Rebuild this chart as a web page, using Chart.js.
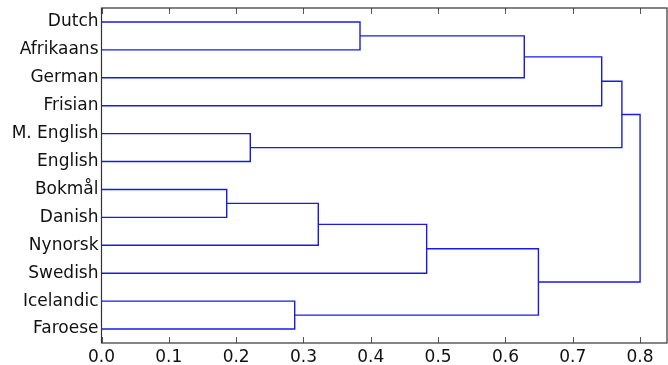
<!DOCTYPE html>
<html>
<head>
<meta charset="utf-8">
<script src="https://cdn.jsdelivr.net/npm/chart.js@4"></script>
<style>
  html, body { margin: 0; padding: 0; background: #fff; }
  #wrap { width: 668px; height: 365px; }
</style>
</head>
<body>
<div id="wrap"><canvas id="c" width="668" height="365"></canvas></div>
<script>
// Leaves (top to bottom)
const leaves = ['Dutch', 'Afrikaans', 'German', 'Frisian', 'M. English', 'English',
                'Bokmål', 'Danish', 'Nynorsk', 'Swedish', 'Icelandic', 'Faroese'];
// Merges (scipy style: ids 0..11 are leaves, merge k creates id 12+k)
const mergeLeft   = [0, 12, 13, 4, 14, 6, 17, 18, 10, 19, 16];
const mergeRight  = [1, 2, 3, 5, 15, 7, 8, 9, 11, 20, 21];
const mergeHeight = [0.384, 0.628, 0.743, 0.221, 0.773, 0.186, 0.322, 0.483, 0.287, 0.649, 0.80];
// X axis ticks
const xTicks = [0.0, 0.1, 0.2, 0.3, 0.4, 0.5, 0.6, 0.7, 0.8];

const nLeaves = leaves.length;
const nodePos = leaves.map((_, i) => 5 + 10 * i);
const nodeH = leaves.map(() => 0);
const datasets = [];
mergeLeft.forEach((a, k) => {
  const b = mergeRight[k], h = mergeHeight[k];
  datasets.push({
    data: [
      { x: nodeH[a], y: nodePos[a] },
      { x: h, y: nodePos[a] },
      { x: h, y: nodePos[b] },
      { x: nodeH[b], y: nodePos[b] }
    ],
    showLine: true,
    borderColor: '#1a1ae8',
    borderWidth: 1.4,
    pointRadius: 0,
    fill: false,
    tension: 0
  });
  nodePos.push((nodePos[a] + nodePos[b]) / 2);
  nodeH.push(h);
});

Chart.defaults.font.family = "'DejaVu Sans', sans-serif";
Chart.defaults.font.size = 17;
Chart.defaults.color = '#111';

const frame = {
  id: 'frame',
  afterDraw(chart) {
    const { ctx, chartArea: a, scales: { x } } = chart;
    ctx.save();
    ctx.strokeStyle = '#555';
    ctx.lineWidth = 1;
    xTicks.forEach(v => {
      const px = Math.round(x.getPixelForValue(v)) + 0.5;
      ctx.beginPath();
      ctx.moveTo(px, a.bottom); ctx.lineTo(px, a.bottom - 6);
      ctx.moveTo(px, a.top); ctx.lineTo(px, a.top + 6);
      ctx.stroke();
    });
    ctx.strokeStyle = '#333';
    ctx.lineWidth = 1.2;
    ctx.strokeRect(a.left, a.top, a.right - a.left, a.bottom - a.top);
    ctx.restore();
  }
};

new Chart(document.getElementById('c'), {
  type: 'scatter',
  data: { datasets },
  options: {
    responsive: false,
    animation: false,
    layout: { padding: { top: 8, right: 1, left: 0, bottom: 0 } },
    plugins: { legend: { display: false }, tooltip: { enabled: false } },
    scales: {
      x: {
        type: 'linear',
        min: 0, max: 0.84,
        afterBuildTicks: s => { s.ticks = xTicks.map(v => ({ value: v })); },
        afterFit: s => { s.height = 22; s.paddingLeft = 0; s.paddingRight = 0; },
        ticks: { padding: 4, callback: v => v.toFixed(1), maxRotation: 0 },
        grid: { display: false, drawTicks: false },
        border: { display: false }
      },
      y: {
        type: 'linear',
        reverse: true,
        min: 0, max: 10 * nLeaves,
        afterBuildTicks: s => { s.ticks = leaves.map((_, i) => ({ value: 5 + 10 * i })); },
        afterFit: s => { s.width = 101.5; s.paddingTop = 0; s.paddingBottom = 0; },
        ticks: { padding: 3, callback: (v, i) => leaves[i] },
        grid: { display: false, drawTicks: false },
        border: { display: false }
      }
    }
  },
  plugins: [frame]
});
</script>
</body>
</html>
